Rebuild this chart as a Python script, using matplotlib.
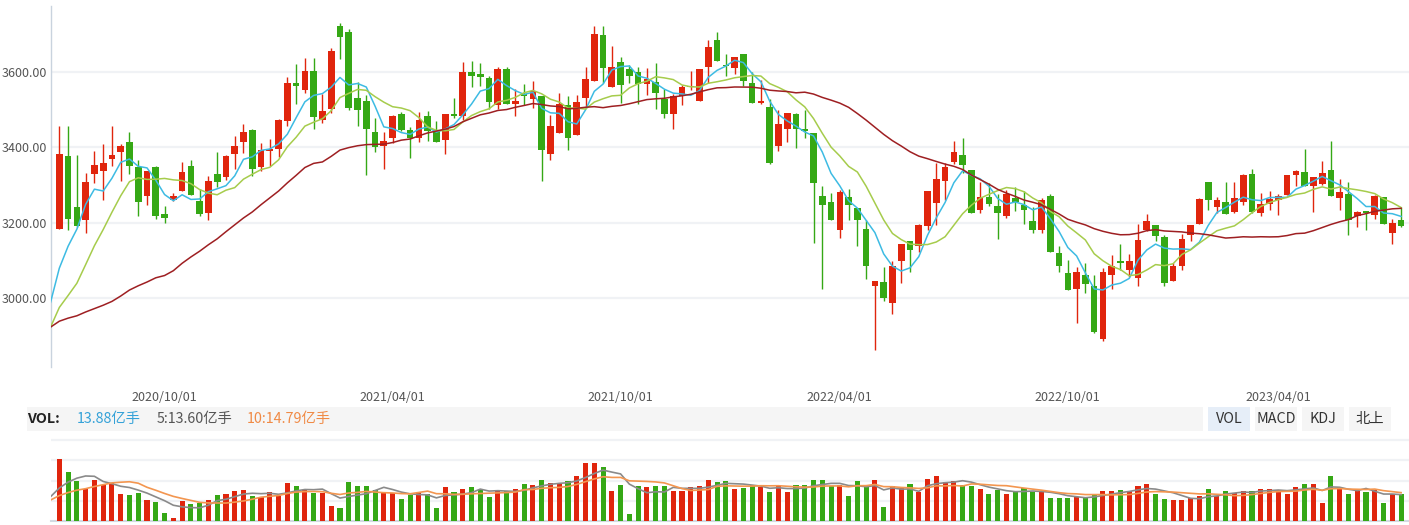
import numpy as np
import pandas as pd
import matplotlib
matplotlib.use("Agg")
import matplotlib.pyplot as plt
from matplotlib.patches import Rectangle

plt.rcParams['font.family'] = ['Noto Sans CJK SC', 'DejaVu Sans']

# weekly closes before the first visible candle (only used to start the MA lines)
early_close = [2912, 2968, 3005, 3005, 3083, 3092, 3075, 2976, 2876, 2917,
               3039, 2880, 3034, 2887, 2746, 2772, 2764, 2797, 2838, 2809,
               2860, 2895, 2868, 2814, 2852, 2930, 2920, 2967, 2979, 3152]
early_vol = [8.5, 9, 8, 8.5, 9.5, 9, 9.5, 10, 10.5, 21]

# weekly candles
open_ = [3185, 3377, 3242, 3209, 3330, 3338, 3370, 3389, 3414, 3347,
         3272, 3348, 3224, 3260, 3285, 3351, 3258, 3225, 3330, 3322,
         3382, 3415, 3446, 3347, 3391, 3395, 3470, 3570, 3553, 3604,
         3474, 3503, 3721, 3705, 3530, 3522, 3441, 3404, 3426, 3490,
         3446, 3426, 3483, 3444, 3420, 3488, 3484, 3599, 3596, 3585,
         3512, 3609, 3514, 3543, 3529, 3536, 3383, 3439, 3512, 3434,
         3531, 3576, 3697, 3560, 3626, 3607, 3599, 3568, 3573, 3528,
         3489, 3537, 3559, 3524, 3613, 3686, 3618, 3611, 3647, 3570,
         3518, 3507, 3404, 3449, 3488, 3448, 3438, 3271, 3256, 3182,
         3269, 3240, 3184, 3032, 3044, 2987, 3098, 3151, 3140, 3193,
         3254, 3312, 3362, 3380, 3340, 3233, 3269, 3245, 3217, 3266,
         3248, 3204, 3182, 3271, 3120, 3067, 3024, 3062, 3034, 2891,
         3061, 3099, 3074, 3053, 3181, 3194, 3163, 3045, 3085, 3167,
         3197, 3308, 3241, 3256, 3228, 3255, 3330, 3226, 3251, 3260,
         3275, 3328, 3335, 3299, 3304, 3340, 3267, 3277, 3217, 3232,
         3222, 3269, 3174, 3208]
high = [3456, 3456, 3380, 3332, 3390, 3409, 3456, 3409, 3441, 3367,
        3337, 3351, 3245, 3278, 3361, 3368, 3289, 3324, 3388, 3379,
        3430, 3463, 3448, 3411, 3422, 3475, 3587, 3620, 3636, 3636,
        3541, 3663, 3731, 3715, 3574, 3540, 3478, 3442, 3485, 3493,
        3453, 3493, 3496, 3470, 3488, 3530, 3626, 3628, 3623, 3590,
        3612, 3612, 3555, 3567, 3575, 3536, 3485, 3544, 3536, 3538,
        3612, 3721, 3723, 3670, 3639, 3618, 3612, 3610, 3623, 3556,
        3542, 3566, 3602, 3609, 3686, 3707, 3647, 3641, 3649, 3599,
        3578, 3528, 3499, 3491, 3491, 3499, 3438, 3298, 3279, 3287,
        3290, 3240, 3209, 3047, 3082, 3098, 3145, 3153, 3197, 3285,
        3359, 3359, 3418, 3426, 3340, 3308, 3306, 3277, 3287, 3295,
        3285, 3243, 3266, 3277, 3139, 3102, 3084, 3093, 3062, 3081,
        3115, 3145, 3118, 3196, 3224, 3194, 3167, 3095, 3170, 3195,
        3266, 3308, 3269, 3308, 3308, 3330, 3343, 3278, 3284, 3277,
        3327, 3340, 3396, 3323, 3364, 3417, 3316, 3308, 3232, 3232,
        3275, 3269, 3211, 3243]
low = [3183, 3180, 3190, 3174, 3307, 3261, 3352, 3311, 3329, 3219,
       3248, 3210, 3201, 3259, 3285, 3273, 3219, 3208, 3294, 3314,
       3343, 3386, 3324, 3338, 3352, 3375, 3456, 3515, 3544, 3448,
       3465, 3492, 3634, 3500, 3456, 3328, 3388, 3344, 3411, 3444,
       3373, 3415, 3418, 3415, 3383, 3478, 3472, 3560, 3562, 3503,
       3503, 3514, 3484, 3513, 3505, 3311, 3367, 3439, 3393, 3434,
       3507, 3576, 3571, 3560, 3518, 3570, 3515, 3539, 3502, 3479,
       3449, 3513, 3553, 3524, 3572, 3629, 3589, 3595, 3562, 3518,
       3515, 3357, 3391, 3415, 3399, 3426, 3148, 3024, 3209, 3159,
       3209, 3140, 3050, 2863, 2992, 2958, 3042, 3069, 3124, 3182,
       3195, 3262, 3357, 3333, 3225, 3225, 3245, 3156, 3214, 3232,
       3198, 3174, 3172, 3124, 3071, 3021, 2934, 3013, 2909, 2886,
       3025, 3076, 3057, 3034, 3179, 3151, 3032, 3045, 3074, 3153,
       3197, 3235, 3227, 3223, 3226, 3247, 3226, 3218, 3233, 3222,
       3275, 3299, 3299, 3230, 3301, 3270, 3235, 3169, 3188, 3180,
       3211, 3196, 3144, 3188]
close = [3382, 3211, 3193, 3308, 3353, 3358, 3380, 3404, 3352, 3256,
         3337, 3217, 3214, 3270, 3335, 3275, 3223, 3311, 3308, 3377,
         3405, 3442, 3344, 3393, 3396, 3472, 3570, 3563, 3604, 3481,
         3496, 3655, 3692, 3505, 3500, 3449, 3402, 3417, 3483, 3446,
         3426, 3472, 3444, 3415, 3488, 3484, 3599, 3589, 3587, 3521,
         3607, 3516, 3522, 3537, 3550, 3394, 3456, 3515, 3426, 3520,
         3581, 3702, 3611, 3612, 3566, 3589, 3569, 3581, 3544, 3489,
         3537, 3559, 3562, 3607, 3665, 3629, 3616, 3639, 3576, 3518,
         3522, 3359, 3462, 3491, 3449, 3444, 3307, 3248, 3209, 3282,
         3248, 3209, 3085, 3047, 3000, 3085, 3145, 3127, 3195, 3285,
         3316, 3348, 3388, 3354, 3225, 3269, 3251, 3225, 3277, 3256,
         3233, 3182, 3262, 3124, 3085, 3021, 3070, 3037, 2912, 3071,
         3086, 3095, 3100, 3155, 3205, 3164, 3042, 3087, 3158, 3195,
         3263, 3262, 3261, 3223, 3267, 3328, 3228, 3250, 3263, 3270,
         3327, 3337, 3299, 3321, 3332, 3270, 3282, 3209, 3229, 3227,
         3270, 3196, 3200, 3193]
# weekly volume, 亿手
volume = [30.5, 24.1, 19.7, 15.9, 20.2, 17.7, 18.7, 13.3, 12.8, 13.8,
          10.3, 9.4, 3.9, 1.5, 9.9, 8.4, 8.9, 10.3, 12.8, 13.3,
          14.8, 15.3, 12.3, 11.8, 14.3, 12.3, 18.7, 17.2, 15.3, 13.8,
          13.8, 7.4, 6.4, 19.2, 17.2, 17.2, 15.3, 14.3, 13.8, 10.8,
          12.8, 13.8, 13.3, 6.4, 16.7, 14.3, 15.8, 16.7, 15.3, 11.8,
          15.3, 14.8, 15.8, 18.2, 17.7, 20.2, 18.7, 18.2, 19.7, 22.2,
          28.6, 28.6, 26.6, 14.8, 17.7, 3.4, 17.2, 16.7, 17.2, 17.2,
          14.8, 14.8, 16.7, 17.2, 20.2, 19.2, 19.7, 15.8, 16.3, 17.7,
          16.7, 14.3, 17.2, 14.3, 17.7, 17.7, 20.2, 20.2, 17.2, 17.7,
          12.3, 19.7, 17.7, 20.2, 6.9, 17.2, 16.7, 18.2, 14.3, 20.7,
          22.2, 19.2, 19.7, 17.7, 17.2, 15.8, 13.3, 15.3, 13.3, 14.8,
          16.3, 14.3, 14.3, 11.3, 11.3, 11.3, 11.8, 11.8, 13.3, 14.8,
          14.8, 15.3, 14.8, 17.2, 18.2, 13.3, 10.8, 10.3, 10.3, 11.3,
          12.3, 15.8, 12.3, 14.8, 13.8, 14.8, 14.8, 15.8, 15.8, 15.3,
          13.3, 16.7, 18.2, 18.2, 8.9, 22.2, 15.8, 13.3, 14.8, 14.3,
          15.3, 8.9, 13.3, 13.3]

date_pos = [12, 38, 64, 89, 115, 139]
date_labels = ['2020/10/01', '2021/04/01', '2021/10/01',
               '2022/04/01', '2022/10/01', '2023/04/01']
price_ticks = [3000, 3200, 3400, 3600]

UP = '#e0250d'
DOWN = '#35a815'
W, H = 1409, 525

o = np.array(open_, float)
c = np.array(close, float)
hi = np.array(high, float)
lo = np.array(low, float)
n = len(c)
x = np.arange(n)
cols = np.where(c >= o, UP, DOWN)

allc = pd.Series(early_close + close)
xa = np.arange(-len(early_close), n)
ma5 = allc.rolling(5).mean()
ma10 = allc.rolling(10).mean()
ma30 = allc.rolling(30).mean()
keep = xa >= -1

allv = pd.Series(early_vol + volume)
xv = np.arange(-len(early_vol), n)
vma5 = allv.rolling(5).mean()
vma10 = allv.rolling(10).mean()
keepv = xv >= -1

fig = plt.figure(figsize=(W / 100, H / 100), dpi=100)


def box(x0, y0, x1, y1):
    return [x0 / W, 1 - y1 / H, (x1 - x0) / W, (y1 - y0) / H]


ax = fig.add_axes(box(51, 6, W, 367))
ax.vlines(x, lo, hi, colors=cols, linewidth=1.0, zorder=2)
ax.bar(x, np.maximum(np.abs(c - o), 2.0), bottom=np.minimum(o, c), width=0.76,
       color=cols, linewidth=0, zorder=3)
ax.plot(xa[keep], ma5[keep], color='#3dbbe3', lw=1.1, zorder=4)
ax.plot(xa[keep], ma10[keep], color='#a6cc4c', lw=1.1, zorder=4)
ax.plot(xa[keep], ma30[keep], color='#9e1f22', lw=1.1, zorder=4)
ax.set_xlim(-0.95, 153.9)
ax.set_ylim(2818, 3775)
ax.set_yticks(price_ticks)
ax.set_yticklabels([f'{v:.2f}' for v in price_ticks])
ax.set_xticks(date_pos)
ax.set_xticklabels(date_labels)
ax.grid(axis='y', color='#f0f2f5', lw=1.6, zorder=0)
ax.tick_params(axis='both', length=0, labelsize=9, labelcolor='#555555')
ax.tick_params(axis='y', pad=3)
ax.tick_params(axis='x', pad=17)
for s in ['top', 'right', 'bottom']:
    ax.spines[s].set_visible(False)
ax.spines['left'].set_color('#c9d3de')
ax.spines['left'].set_linewidth(1.0)

axv = fig.add_axes(box(51, 438, W, 521))
axv.bar(x, volume, width=0.58, color=cols, linewidth=0, zorder=3)
axv.plot(xv[keepv], vma5[keepv], color='#8a8a8a', lw=1.2, zorder=4)
axv.plot(xv[keepv], vma10[keepv], color='#f39650', lw=1.2, zorder=4)
axv.set_xlim(-0.95, 153.9)
axv.set_ylim(0, 41)
axv.set_yticks([10, 20, 30, 40])
axv.set_xticks([])
axv.grid(axis='y', color='#f0f2f5', lw=1.6, zorder=0)
axv.tick_params(axis='y', length=0, labelleft=False)
for s in ['top', 'right', 'left']:
    axv.spines[s].set_visible(False)
axv.spines['bottom'].set_color('#d3dae2')
axv.spines['bottom'].set_linewidth(1.5)

# indicator header row
def rect(x0, y0, x1, y1, color):
    fig.patches.append(Rectangle((x0 / W, 1 - y1 / H), (x1 - x0) / W, (y1 - y0) / H,
                                 transform=fig.transFigure, facecolor=color,
                                 edgecolor='none', zorder=0))


def label(xp, txt, color, weight='normal', ha='left'):
    fig.text(xp / W, 1 - 419 / H, txt, color=color, fontsize=10.3, fontweight=weight,
             ha=ha, va='center')


rect(27, 407, 1203, 431, '#f5f5f5')
label(27, 'VOL:', '#222222', weight='bold')
label(77, '13.88亿手', '#35a2d8')
label(157, '5:13.60亿手', '#555555')
label(247, '10:14.79亿手', '#f08a45')

buttons = [('VOL', 1208, 1250, '#e6eef8'), ('MACD', 1255, 1297, '#f5f5f5'),
           ('KDJ', 1302, 1344, '#f5f5f5'), ('北上', 1349, 1391, '#f5f5f5')]
for txt, x0, x1, bg in buttons:
    rect(x0, 407, x1, 431, bg)
    label((x0 + x1) / 2, txt, '#333333', ha='center')

fig.savefig('out.png', dpi=100)
